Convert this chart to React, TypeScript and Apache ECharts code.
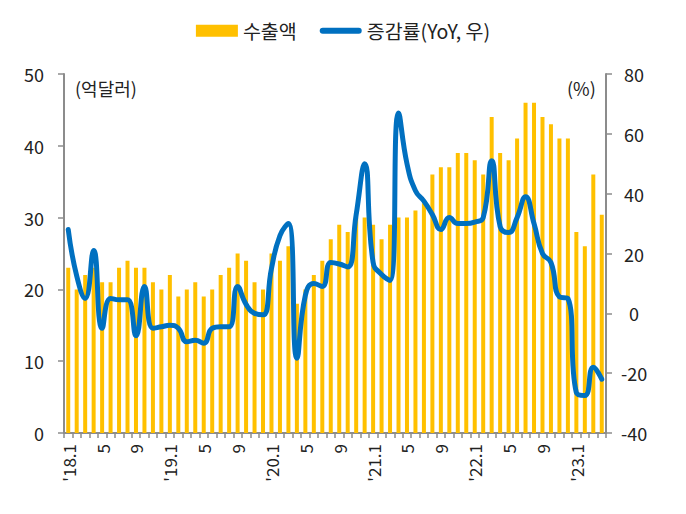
import React, { useEffect, useRef } from "react";
import * as echarts from "echarts";

const categories = [
  "'18.1", "2", "3", "4", "5", "6", "7", "8", "9", "10", "11", "12",
  "'19.1", "2", "3", "4", "5", "6", "7", "8", "9", "10", "11", "12",
  "'20.1", "2", "3", "4", "5", "6", "7", "8", "9", "10", "11", "12",
  "'21.1", "2", "3", "4", "5", "6", "7", "8", "9", "10", "11", "12",
  "'22.1", "2", "3", "4", "5", "6", "7", "8", "9", "10", "11", "12",
  "'23.1", "2", "3", "4",
];

const exportValues = [
  23, 20, 22, 23, 21, 21, 23, 24, 23, 23, 21, 20,
  22, 19, 20, 21, 19, 20, 22, 23, 25, 24, 21, 20,
  25, 24, 26, 18, 20, 22, 24, 27, 29, 28, 30, 30,
  29, 27, 29, 30, 30, 31, 32, 36, 37, 37, 39, 39,
  38, 36, 44, 39, 38, 41, 46, 46, 44, 43, 41, 41,
  28, 26, 36, 30.4,
];

const yoyValues = [
  28, 12.5, 5, 21, -5, 5, 4.5, 4.5, -7.5, 9, -5, -4.5,
  -4, -5, -9.5, -9, -10, -5, -4.5, -4.5, 9, 3, 0, -0.5,
  15, 26, 30, -15, 6, 10, 9, 17, 16.5, 15.5, 33, 50,
  17, 13, 11, 67, 50, 41, 37.5, 33, 28, 32, 30, 30,
  30.5, 32, 51, 29, 27, 32, 39, 30, 20, 17, 5.5, 5,
  -26.5, -27.5, -18, -22,
];

const leftTicks = { min: 0, max: 50, interval: 10 };
const rightTicks = { min: -40, max: 80, interval: 20 };

const FONT = "'Noto Sans CJK KR', 'Noto Sans', sans-serif";
const TEXT = "#222222";
const AXIS = "#8c8c8c";
const LINE_ICON = "path://M3,0H39A3,3,0,0,1,39,6H3A3,3,0,0,1,3,0Z";

export default function App() {
  const ref = useRef<HTMLDivElement>(null);

  useEffect(() => {
    if (!ref.current) return;
    const chart = echarts.init(ref.current, null, { renderer: "svg" });
    chart.setOption({
      animation: false,
      textStyle: { fontFamily: FONT },
      legend: {
        top: 16,
        left: "center",
        itemWidth: 42,
        itemHeight: 12,
        itemGap: 23,
        symbolKeepAspect: true,
        textStyle: { fontSize: 19.5, color: TEXT, fontFamily: FONT },
        data: [
          { name: "수출액", icon: "rect", itemStyle: { color: "#FFC000" } },
          { name: "증감률(YoY, 우)", icon: LINE_ICON, itemStyle: { color: "#0070C0" } },
        ],
      },
      grid: { left: 64, right: 80, top: 74, bottom: 81, containLabel: false },
      xAxis: {
        type: "category",
        data: categories,
        boundaryGap: true,
        axisLine: { lineStyle: { color: AXIS, width: 2 } },
        axisTick: { show: true, interval: 0, length: 5, lineStyle: { color: AXIS, width: 1.5 } },
        axisLabel: {
          interval: 3,
          rotate: 90,
          fontSize: 17,
          color: TEXT,
          margin: 11,
          fontFamily: FONT,
        },
        splitLine: { show: false },
      },
      yAxis: [
        {
          type: "value",
          min: leftTicks.min,
          max: leftTicks.max,
          interval: leftTicks.interval,
          position: "left",
          axisLine: { show: true, lineStyle: { color: AXIS, width: 2 } },
          axisTick: { show: true, length: 6, lineStyle: { color: AXIS, width: 1.5 } },
          axisLabel: { fontSize: 18, color: TEXT, margin: 20, fontFamily: FONT },
          splitLine: { show: false },
        },
        {
          type: "value",
          min: rightTicks.min,
          max: rightTicks.max,
          interval: rightTicks.interval,
          position: "right",
          axisLine: { show: true, lineStyle: { color: AXIS, width: 2 } },
          axisTick: { show: true, length: 6, lineStyle: { color: AXIS, width: 1.5 } },
          axisLabel: { fontSize: 18, color: TEXT, margin: 28, align: "center", fontFamily: FONT },
          splitLine: { show: false },
        },
      ],
      series: [
        {
          name: "수출액",
          type: "bar",
          yAxisIndex: 0,
          data: exportValues,
          barWidth: 4,
          itemStyle: { color: "#FFC000" },
        },
        {
          name: "증감률(YoY, 우)",
          type: "line",
          yAxisIndex: 1,
          data: yoyValues,
          smooth: 0.5,
          symbol: "none",
          lineStyle: { color: "#0070C0", width: 5, cap: "round", join: "round" },
          itemStyle: { color: "#0070C0" },
        },
      ],
      graphic: [
        {
          type: "text",
          left: 75,
          top: 79,
          style: { text: "(억달러)", fontSize: 18, fill: TEXT, fontFamily: FONT },
        },
        {
          type: "text",
          left: 567,
          top: 79,
          style: { text: "(%)", fontSize: 18, fill: TEXT, fontFamily: FONT },
        },
      ],
    });
    return () => chart.dispose();
  }, []);

  return (
    <div
      ref={ref}
      style={{ position: "fixed", left: 0, top: 0, width: 686, height: 514, background: "#fff" }}
    />
  );
}
